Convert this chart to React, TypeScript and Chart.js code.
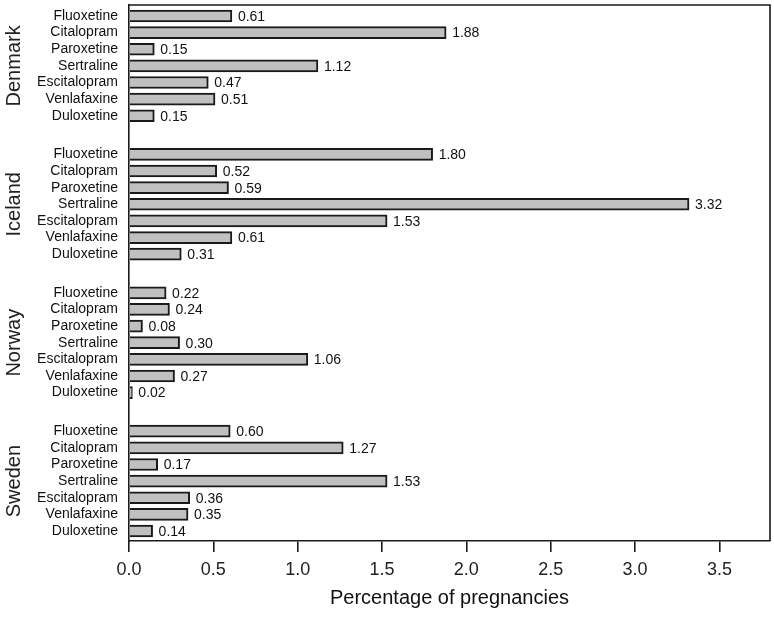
import React, { useEffect, useRef } from "react";
import { Chart, registerables } from "chart.js";

Chart.register(...registerables);

const countries = ["Denmark", "Iceland", "Norway", "Sweden"];
const drugs = ["Fluoxetine", "Citalopram", "Paroxetine", "Sertraline", "Escitalopram", "Venlafaxine", "Duloxetine"];
const denmark = [0.61, 1.88, 0.15, 1.12, 0.47, 0.51, 0.15];
const iceland = [1.80, 0.52, 0.59, 3.32, 1.53, 0.61, 0.31];
const norway = [0.22, 0.24, 0.08, 0.30, 1.06, 0.27, 0.02];
const sweden = [0.60, 1.27, 0.17, 1.53, 0.36, 0.35, 0.14];
const xTicks = [0, 0.5, 1.0, 1.5, 2.0, 2.5, 3.0, 3.5];
const xTitle = "Percentage of pregnancies";

const groupStep = 8.32;
const FONT = "'Liberation Sans', Arial, sans-serif";

export default function App() {
  const ref = useRef<HTMLCanvasElement>(null);
  useEffect(() => {
    const series = [denmark, iceland, norway, sweden];
    const points: { x: number; y: number }[] = [];
    const positions: number[] = [];
    series.forEach((arr, c) => {
      arr.forEach((v, d) => {
        const y = c * groupStep + d;
        points.push({ x: v, y });
        positions.push(y);
      });
    });

    const overlay = {
      id: "overlay",
      afterDatasetsDraw(chart: any) {
        const { ctx, chartArea } = chart;
        const xs = chart.scales.x;
        const ys = chart.scales.y;
        ctx.save();
        ctx.strokeStyle = "#1a1a1a";
        ctx.lineWidth = 1.6;
        ctx.beginPath();
        ctx.moveTo(chartArea.left, chartArea.top);
        ctx.lineTo(chartArea.right, chartArea.top);
        ctx.lineTo(chartArea.right, chartArea.bottom);
        ctx.stroke();
        ctx.fillStyle = "#111";
        ctx.font = `14px ${FONT}`;
        ctx.textAlign = "left";
        ctx.textBaseline = "middle";
        points.forEach((p) => {
          ctx.fillText(p.x.toFixed(2), xs.getPixelForValue(p.x) + 6, ys.getPixelForValue(p.y) + 1);
        });
        ctx.fillStyle = "#222";
        ctx.font = `20px ${FONT}`;
        ctx.textAlign = "center";
        countries.forEach((name, c) => {
          const yc = ys.getPixelForValue(c * groupStep + 3);
          ctx.save();
          ctx.translate(14, yc);
          ctx.rotate(-Math.PI / 2);
          ctx.fillText(name, 0, 0);
          ctx.restore();
        });
        ctx.restore();
      },
    };

    const chart = new Chart(ref.current!, {
      type: "bar",
      data: {
        datasets: [
          {
            data: points as any,
            backgroundColor: "#c0c0c0",
            borderColor: "#1a1a1a",
            borderWidth: 2,
            barThickness: 12,
          },
        ],
      },
      options: {
        indexAxis: "y",
        animation: false,
        responsive: false,
        events: [],
        layout: { padding: { top: 5, right: 4, left: 0, bottom: 0 } },
        plugins: { legend: { display: false }, tooltip: { enabled: false } },
        scales: {
          x: {
            type: "linear",
            min: 0,
            max: 3.8,
            afterBuildTicks: (scale: any) => {
              scale.ticks = xTicks.map((v) => ({ value: v }));
            },
            ticks: {
              callback: (v: any) => Number(v).toFixed(1),
              font: { size: 18, family: FONT },
              color: "#222",
              padding: 7,
              maxRotation: 0,
              autoSkip: false,
            },
            grid: { display: true, drawOnChartArea: false, drawTicks: true, tickLength: 11, color: "#1a1a1a", lineWidth: 1.6 },
            border: { display: true, color: "#1a1a1a", width: 1.6 },
            title: {
              display: true,
              text: xTitle,
              font: { size: 20, family: FONT },
              color: "#111",
              padding: { top: 4, bottom: 7 },
            },
            afterFit: (scale: any) => {
              scale.height = 76;
              scale.paddingLeft = 0;
              scale.paddingRight = 0;
            },
          },
          y: {
            type: "linear",
            reverse: true,
            offset: false,
            min: -0.66,
            max: 3 * groupStep + 6.6,
            afterBuildTicks: (scale: any) => {
              scale.ticks = positions.map((v) => ({ value: v }));
            },
            ticks: {
              callback: (_v: any, i: number) => drugs[i % drugs.length],
              font: { size: 14, family: FONT },
              color: "#111",
              padding: 3,
              autoSkip: false,
            },
            grid: { display: false, offset: false },
            border: { display: true, color: "#1a1a1a", width: 1.6 },
            afterFit: (scale: any) => {
              scale.width = 129;
              scale.paddingTop = 0;
              scale.paddingBottom = 0;
            },
          },
        },
      },
      plugins: [overlay],
    });
    return () => chart.destroy();
  }, []);

  return (
    <div style={{ position: "absolute", left: 0, top: 0, width: 774, height: 617, background: "#fff" }}>
      <canvas ref={ref} width={774} height={617} style={{ display: "block" }} />
    </div>
  );
}
